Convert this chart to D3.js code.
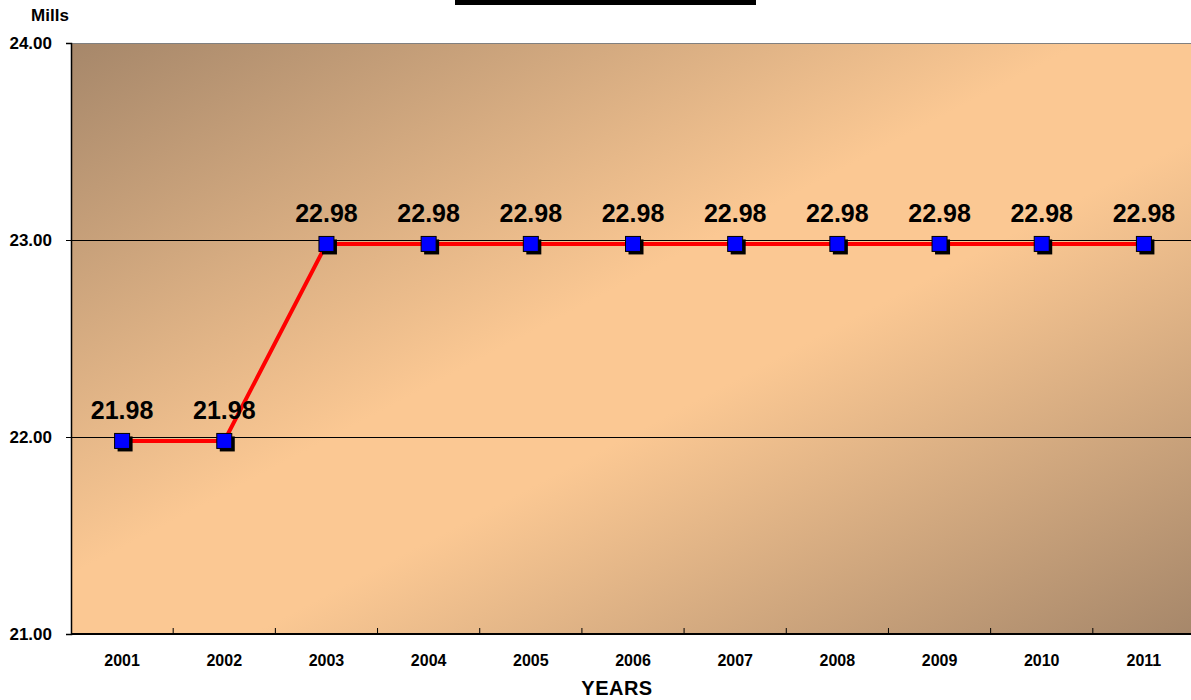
<!DOCTYPE html>
<html><head><meta charset="utf-8">
<script src="https://cdn.jsdelivr.net/npm/d3@7"></script>
<style>body{margin:0;background:#fff}svg{display:block}text{font-family:Arial,"Liberation Sans",sans-serif;font-weight:bold;fill:#000}</style>
</head><body>
<script>
const years = ["2001","2002","2003","2004","2005","2006","2007","2008","2009","2010","2011"];
const mills = [21.98,21.98,22.98,22.98,22.98,22.98,22.98,22.98,22.98,22.98,22.98];
const yTicks = [21,22,23,24];
const yAxisTitle = "Mills";
const xAxisTitle = "YEARS";

const W=1191,H=700;
const m={left:71,top:43,right:1195,bottom:634};
const svg=d3.select("body").append("svg").attr("width",W).attr("height",H);
const defs=svg.append("defs");
const g=defs.append("linearGradient").attr("id","bg").attr("x1",0).attr("y1",0).attr("x2",1).attr("y2",1);
[[0,"#a6876a"],[0.45,"#fbc893"],[0.58,"#fbc893"],[1,"#a6876a"]].forEach(s=>g.append("stop").attr("offset",s[0]).attr("stop-color",s[1]));

const x=d3.scaleBand().domain(years).range([m.left,m.right]);
const y=d3.scaleLinear().domain([21,24]).range([m.bottom,m.top]);

// title bar
svg.append("rect").attr("x",455).attr("y",0).attr("width",301).attr("height",5).attr("fill","#000");

svg.append("rect").attr("x",m.left).attr("y",m.top).attr("width",m.right-m.left).attr("height",m.bottom-m.top).attr("fill","url(#bg)");
svg.append("line").attr("x1",m.left).attr("x2",m.right).attr("y1",m.top+0.5).attr("y2",m.top+0.5).attr("stroke","#808080");

// gridlines
svg.append("g").selectAll("line").data(yTicks.filter(t=>t>21&&t<24)).join("line")
 .attr("x1",m.left).attr("x2",m.right).attr("y1",d=>Math.round(y(d))+0.5).attr("y2",d=>Math.round(y(d))+0.5)
 .attr("stroke","#000").attr("stroke-width",1);

// y axis
const ya=svg.append("g").attr("transform",`translate(${m.left},0)`)
 .call(d3.axisLeft(y).tickValues(yTicks).tickFormat(d3.format(".2f")).tickSize(5).tickPadding(14));
ya.select(".domain").attr("stroke","#000").attr("stroke-width",1.5);
ya.selectAll("text").attr("font-size",17).style("font-size","17px").style("font-family","Arial").style("font-weight","bold");

// x axis
const xa=svg.append("g").attr("transform",`translate(0,${m.bottom})`);
xa.append("line").attr("x1",m.left).attr("x2",m.right).attr("stroke","#000").attr("stroke-width",2);
xa.selectAll(".tk").data(years.slice(1)).join("line").attr("class","tk")
 .attr("x1",d=>x(d)).attr("x2",d=>x(d)).attr("y1",0).attr("y2",-6).attr("stroke","#000");
xa.selectAll(".lb").data(years).join("text").attr("class","lb")
 .attr("x",d=>x(d)+x.bandwidth()/2).attr("y",32).attr("text-anchor","middle").style("font-size","16px").text(d=>d);

svg.append("text").attr("x",50).attr("y",21).attr("text-anchor","middle").style("font-size","17px").text(yAxisTitle);
svg.append("text").attr("x",617).attr("y",695).attr("text-anchor","middle").style("font-size","20px").style("letter-spacing","0.5px").text(xAxisTitle);

const cx=d=>x(d)+x.bandwidth()/2;
const data=years.map((d,i)=>({yr:d,v:mills[i]}));
svg.append("path").datum(data).attr("fill","none").attr("stroke","#ff0000").attr("stroke-width",4)
 .attr("d",d3.line().x(d=>cx(d.yr)).y(d=>y(d.v)));
const s=15;
svg.append("g").selectAll("rect").data(data).join("rect")
 .attr("x",d=>cx(d.yr)-s/2+3).attr("y",d=>y(d.v)-s/2+3).attr("width",s).attr("height",s).attr("fill","#000");
svg.append("g").selectAll("rect").data(data).join("rect")
 .attr("x",d=>cx(d.yr)-s/2).attr("y",d=>y(d.v)-s/2).attr("width",s).attr("height",s).attr("fill","#0000ff").attr("stroke","#000").attr("stroke-width",1);
svg.append("g").selectAll("text").data(data).join("text")
 .attr("x",d=>cx(d.yr)).attr("y",d=>y(d.v)-22).attr("text-anchor","middle").style("font-size","25px").text(d=>d.v.toFixed(2));
</script>
</body></html>
